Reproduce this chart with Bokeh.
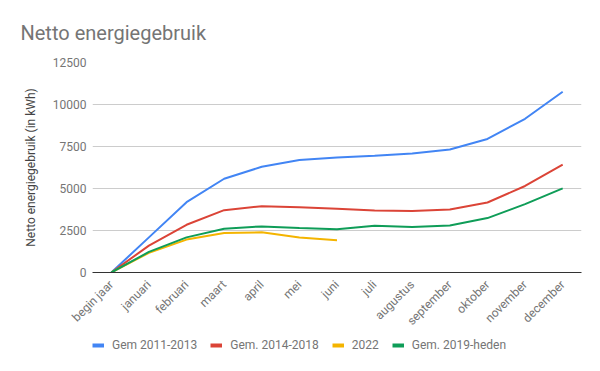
import math
from bokeh.plotting import figure
from bokeh.layouts import column
from bokeh.models import ColumnDataSource, Legend, LegendItem, FactorRange, Range1d, FixedTicker, NumeralTickFormatter
from bokeh.embed import file_html
from bokeh.resources import INLINE

months = ["begin jaar", "januari", "februari", "maart", "april", "mei", "juni",
          "juli", "augustus", "september", "oktober", "november", "december"]
gem_2011_2013 = [0, 2090, 4185, 5580, 6290, 6690, 6850, 6950, 7090, 7320, 7950, 9150, 10760]
gem_2014_2018 = [0, 1600, 2840, 3710, 3945, 3880, 3800, 3690, 3660, 3750, 4165, 5150, 6420]
y2022 = [0, 1170, 1960, 2350, 2390, 2080, 1920]
gem_2019_heden = [0, 1225, 2090, 2605, 2745, 2650, 2580, 2785, 2705, 2800, 3240, 4070, 5010]

series = [
    ("Gem 2011-2013", gem_2011_2013, "#4285F4"),
    ("Gem. 2014-2018", gem_2014_2018, "#DB4437"),
    ("2022", y2022, "#F4B400"),
    ("Gem. 2019-heden", gem_2019_heden, "#0F9D58"),
]

FONT = "Roboto"

p = figure(width=600, height=335, x_range=FactorRange(*months, range_padding=0),
           y_range=Range1d(0, 12500), output_backend="svg", toolbar_location=None,
           min_border_left=92, min_border_right=19, min_border_top=62, min_border_bottom=62)
p.x_range.factor_padding = 0
p.outline_line_color = None

p.title.text = "Netto energiegebruik"
p.title.text_font = FONT
p.title.text_font_size = "20px"
p.title.text_font_style = "normal"
p.title.text_color = "#757575"
p.title.align = "left"
p.title.offset = -72
p.title.standoff = 35

for name, vals, col in series:
    src = ColumnDataSource(dict(x=months[:len(vals)], y=vals))
    p.line("x", "y", source=src, line_color=col, line_width=2)

p.yaxis.ticker = FixedTicker(ticks=[0, 2500, 5000, 7500, 10000, 12500])
p.yaxis.formatter = NumeralTickFormatter(format="0")
p.yaxis.axis_line_color = None
p.yaxis.major_tick_line_color = None
p.yaxis.minor_tick_line_color = None
p.yaxis.major_tick_out = 0
p.yaxis.major_tick_in = 0
p.yaxis.major_label_text_font = FONT
p.yaxis.major_label_text_font_size = "12px"
p.yaxis.major_label_text_color = "#757575"
p.yaxis.major_label_standoff = 6
p.yaxis.axis_label = "Netto energiegebruik (in kWh)"
p.yaxis.axis_label_text_font = FONT
p.yaxis.axis_label_text_font_size = "12px"
p.yaxis.axis_label_text_font_style = "normal"
p.yaxis.axis_label_text_color = "#444444"
p.yaxis.axis_label_standoff = 12

p.xaxis.axis_line_color = "#333333"
p.xaxis.major_tick_line_color = None
p.xaxis.minor_tick_line_color = None
p.xaxis.major_tick_out = 0
p.xaxis.major_tick_in = 0
p.xaxis.major_label_orientation = math.pi / 4
p.xaxis.major_label_text_font = FONT
p.xaxis.major_label_text_font_size = "12px"
p.xaxis.major_label_text_color = "#757575"
p.xaxis.major_label_standoff = 10

p.xgrid.grid_line_color = None
p.ygrid.grid_line_color = "#cccccc"

# legend strip below the chart
lf = figure(width=600, height=36, x_range=Range1d(0, 1), y_range=Range1d(0, 1),
            output_backend="svg", toolbar_location=None, title=None,
            x_axis_location=None, y_axis_location=None,
            min_border=0, min_border_left=0, min_border_right=0, min_border_top=0, min_border_bottom=0)
lf.outline_line_color = None
lf.grid.grid_line_color = None
items = []
for name, vals, col in series:
    r = lf.line(x=[0.5], y=[float("nan")], line_color=col, line_width=4)
    items.append(LegendItem(label=name, renderers=[r]))
legend = Legend(items=items, orientation="horizontal", location=(0, 18),
                glyph_width=12, glyph_height=16, label_standoff=8, spacing=13,
                label_height=16, padding=0, margin=0, border_line_color=None, background_fill_alpha=0,
                label_text_font=FONT, label_text_font_size="12px", label_text_color="#757575")
lf.add_layout(legend, "center")

layout = column(p, lf, spacing=0)
open("out.html", "w").write(file_html(layout, INLINE))
